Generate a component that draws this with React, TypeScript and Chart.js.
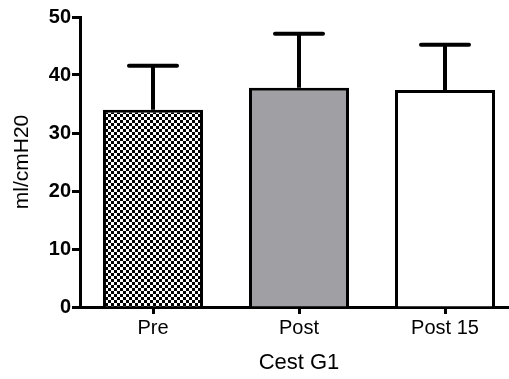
import React, { useEffect, useRef } from "react";
import { Chart, registerables } from "chart.js";

Chart.register(...registerables);

const categories = ["Pre", "Post", "Post 15"];
const means = [34.0, 37.8, 37.4];
const sds = [7.6, 9.3, 7.8];
const yTicks = [0, 10, 20, 30, 40, 50];
const xTitle = "Cest G1";
const yTitle = "ml/cmH20";

const FONT = "Arial, 'Liberation Sans', sans-serif";

function makePattern(): CanvasPattern | string {
  const c = document.createElement("canvas");
  const s = 3;
  c.width = s * 2;
  c.height = s * 2;
  const ctx = c.getContext("2d");
  if (!ctx) return "#000";
  ctx.fillStyle = "#fff";
  ctx.fillRect(0, 0, s * 2, s * 2);
  ctx.fillStyle = "#000";
  ctx.fillRect(0, 0, s, s);
  ctx.fillRect(s, s, s, s);
  const p = ctx.createPattern(c, "repeat");
  return p || "#000";
}

const errorBars = {
  id: "errorBars",
  afterDatasetsDraw(chart: any) {
    const ctx = chart.ctx;
    const meta = chart.getDatasetMeta(0);
    const yScale = chart.scales.y;
    ctx.save();
    ctx.strokeStyle = "#000";
    meta.data.forEach((bar: any, i: number) => {
      const top = yScale.getPixelForValue(means[i] + sds[i]);
      ctx.lineWidth = 4;
      ctx.lineCap = "butt";
      ctx.beginPath();
      ctx.moveTo(bar.x, bar.y);
      ctx.lineTo(bar.x, top);
      ctx.stroke();
      ctx.lineCap = "round";
      ctx.beginPath();
      ctx.moveTo(bar.x - 24, top);
      ctx.lineTo(bar.x + 24, top);
      ctx.stroke();
    });
    ctx.restore();
  },
};

export default function App() {
  const ref = useRef<HTMLCanvasElement>(null);
  useEffect(() => {
    document.body.style.margin = "0";
    const canvas = ref.current;
    if (!canvas) return;
    const chart = new Chart(canvas, {
      type: "bar",
      data: {
        labels: categories,
        datasets: [
          {
            data: means,
            backgroundColor: [makePattern(), "#a0a0a4", "#ffffff"] as any,
            borderColor: "#000",
            borderWidth: 3,
            barPercentage: 1,
            categoryPercentage: 0.685,
          },
        ],
      },
      options: {
        responsive: false,
        animation: false,
        layout: { padding: { top: 17, right: 12, left: 0, bottom: 0 } },
        plugins: { legend: { display: false }, tooltip: { enabled: false } },
        scales: {
          x: {
            afterFit: (s: any) => {
              s.height = 72;
            },
            grid: {
              display: true,
              drawOnChartArea: false,
              drawTicks: true,
              tickLength: 7,
              tickWidth: 3,
              tickColor: "#000",
              offset: false,
            },
            border: { display: true, color: "#000", width: 3 },
            ticks: {
              color: "#000",
              font: { family: FONT, size: 20 },
              padding: 2,
            },
            title: {
              display: true,
              text: xTitle,
              color: "#000",
              font: { family: FONT, size: 22 },
              padding: { top: 4, bottom: 3 },
            },
          },
          y: {
            min: 0,
            max: 50,
            afterFit: (s: any) => {
              s.width = 80;
            },
            afterBuildTicks: (s: any) => {
              s.ticks = yTicks.map((v) => ({ value: v }));
            },
            grid: {
              display: true,
              drawOnChartArea: false,
              drawTicks: true,
              tickLength: 8,
              tickWidth: 3,
              tickColor: "#000",
            },
            border: { display: true, color: "#000", width: 3 },
            ticks: {
              color: "#000",
              font: { family: FONT, size: 20, weight: "bold" },
              padding: 1,
            },
            title: {
              display: true,
              text: yTitle,
              color: "#000",
              font: { family: FONT, size: 21 },
              padding: { top: 10, bottom: 4 },
            },
          },
        },
      },
      plugins: [errorBars],
    });
    return () => chart.destroy();
  }, []);
  return (
    <div style={{ width: 509, height: 379, overflow: "hidden" }}>
      <canvas ref={ref} width={530} height={379} style={{ display: "block" }} />
    </div>
  );
}
